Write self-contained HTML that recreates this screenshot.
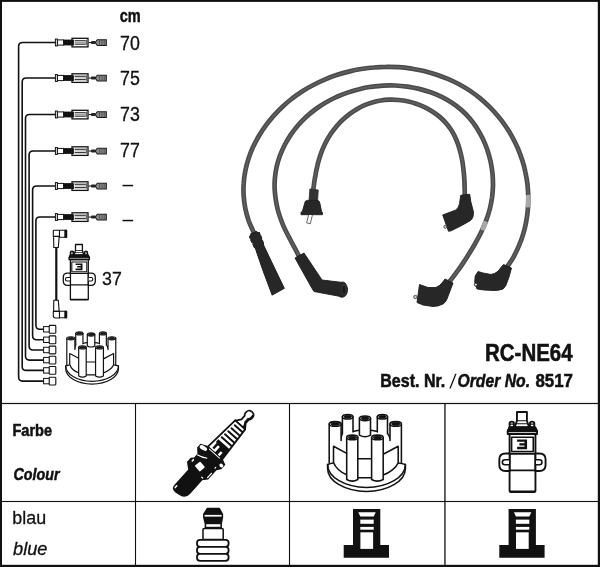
<!DOCTYPE html>
<html>
<head>
<meta charset="utf-8">
<title>RC-NE64</title>
<style>
html,body{margin:0;padding:0;background:#fff;}
body{width:600px;height:567px;overflow:hidden;font-family:"Liberation Sans",sans-serif;}
svg{display:block;will-change:transform;}
text{font-family:"Liberation Sans",sans-serif;fill:#111;}
</style>
</head>
<body>
<svg width="600" height="567" viewBox="0 0 600 567">
<defs>
<!-- PLUG-SYMBOL -->
<g id="plug">
<rect x="0.4" y="-3.4" width="2" height="6.8" fill="#fff" stroke="#111" stroke-width="1"/>
<rect x="2.4" y="-2.6" width="6.2" height="5.2" fill="#fff" stroke="#111" stroke-width="1"/>
<rect x="8.4" y="-2.9" width="8.4" height="5.8" fill="#111"/>
<rect x="17" y="-4.2" width="16" height="8.6" fill="#fff" stroke="#111" stroke-width="1.3"/>
<rect x="16.5" y="-2.8" width="2.4" height="5.8" fill="#111"/>
<rect x="19.6" y="-2.3" width="11.2" height="1.1" fill="#222"/>
<rect x="19.6" y="1.1" width="11.2" height="1.1" fill="#222"/>
<rect x="19.6" y="-0.5" width="11.2" height="0.9" fill="#999"/>
<rect x="30.8" y="-2.8" width="2.6" height="5.6" fill="#666"/>
<rect x="33.6" y="-0.5" width="7" height="1.1" fill="#222"/>
<rect x="36" y="-1.6" width="4.6" height="3.2" rx="1" fill="#222"/>
<path d="M40.2 0 L42.3 -2.8 L51.3 -2.8 L51.3 3 L42.3 3 Z" fill="#8c8c8c" stroke="#1a1a1a" stroke-width="1.1"/>
<path d="M44.6 -2.4 V2.6 M47 -2.4 V2.6 M49.2 -2.4 V2.6" stroke="#444" stroke-width="0.8" fill="none"/>
</g>
<!-- TERM-SYMBOL -->
<g id="term">
<rect x="0" y="-2.7" width="6" height="5.4" fill="#fff" stroke="#111" stroke-width="1"/>
<rect x="5.6" y="-3.9" width="6.6" height="7.8" rx="0.8" fill="#fff" stroke="#111" stroke-width="1.1"/>
</g>
<g id="dcap" fill="none" stroke="#111" stroke-linejoin="round" stroke-linecap="round">
<path d="M-38.9 50.5 V54.5 A38.9 22.9 0 0 0 38.9 54.5 V50.5 Q36 49.5 31.7 49 H-33.3 Q-36 49.5 -38.9 50.5 Z" fill="#fff"/>
<path d="M-38.9 50.5 A38.9 22.9 0 0 0 38.9 50.5"/>
<path d="M-33.3 32.1 V48.8 A32.5 15 0 0 0 31.7 49.3 V32.1 L23.5 24 L21 18.6 L10.8 17.8 L4 16.2 H-7.1 L-13.5 17.8 L-24.1 18.6 L-25.4 24 Z" fill="#fff" stroke="none"/>
<path d="M-13.5 17.6 Q-10 16.4 -7.1 16.2 M4 16.2 Q7.5 16.4 10.8 17.6 M-25.4 24.5 Q-25 21 -24.1 19.5 M21 19.5 Q22.5 21 23.5 24.5"/>
<path d="M-24.1 2.7 V19.5 L-13.5 17.8 V2.7" fill="#fff" stroke="none"/><path d="M-24.1 2.7 V19.5 M-13.5 17.8 V2.7" fill="none"/><ellipse cx="-18.8" cy="2.7" rx="5.3" ry="2.3" fill="#fff"/><ellipse cx="-18.8" cy="2.7" rx="3.7" ry="1.5" fill="#111" stroke="#111" stroke-width="0.8"/>
<path d="M10.8 2.7 V17.8 L21.0 19.5 V2.7" fill="#fff" stroke="none"/><path d="M10.8 2.7 V17.8 M21.0 19.5 V2.7" fill="none"/><ellipse cx="15.9" cy="2.7" rx="5.1" ry="2.3" fill="#fff"/><ellipse cx="15.9" cy="2.7" rx="3.5" ry="1.5" fill="#111" stroke="#111" stroke-width="0.8"/>
<path d="M-7.1 4.3 V21.1 Q-1.5 24.4 4.0 21.1 V4.3" fill="#fff"/><ellipse cx="-1.5" cy="4.3" rx="5.5" ry="2.3" fill="#fff"/><ellipse cx="-1.5" cy="4.3" rx="3.9" ry="1.5" fill="#111" stroke="#111" stroke-width="0.8"/>
<path d="M-37.3 9.9 V48.9 L-25.4 26.5 V9.9" fill="#fff" stroke="none"/><path d="M-37.3 9.9 V48.9 M-25.4 26.5 V9.9" fill="none"/><ellipse cx="-31.3" cy="9.9" rx="5.9" ry="2.3" fill="#fff"/><ellipse cx="-31.3" cy="9.9" rx="4.3" ry="1.5" fill="#111" stroke="#111" stroke-width="0.8"/>
<path d="M23.5 9.9 V26.5 L34.9 48.9 V9.9" fill="#fff" stroke="none"/><path d="M23.5 9.9 V26.5 M34.9 48.9 V9.9" fill="none"/><ellipse cx="29.2" cy="9.9" rx="5.7" ry="2.3" fill="#fff"/><ellipse cx="29.2" cy="9.9" rx="4.1" ry="1.5" fill="#111" stroke="#111" stroke-width="0.8"/>
<path d="M-33 32.3 V48.5 C-31.5 53 -26 58.5 -19.8 60.7 M-33 32.3 L-19.8 39.4 M31.7 32.3 V48.8 C30 53.5 23 58.8 16.7 60.9 M31.7 32.3 L16.7 40.2 M-8.7 44.8 H5.1 M-8.7 63.8 H5.1"/>
<path d="M-19.8 23.4 V65.5 Q-14.2 68.8 -8.7 65.5 V23.4" fill="#fff"/><ellipse cx="-14.2" cy="23.4" rx="5.6" ry="2.3" fill="#fff"/><ellipse cx="-14.2" cy="23.4" rx="4.0" ry="1.5" fill="#111" stroke="#111" stroke-width="0.8"/>
<path d="M5.1 23.4 V65.5 Q10.9 68.8 16.7 65.5 V23.4" fill="#fff"/><ellipse cx="10.9" cy="23.4" rx="5.8" ry="2.3" fill="#fff"/><ellipse cx="10.9" cy="23.4" rx="4.2" ry="1.5" fill="#111" stroke="#111" stroke-width="0.8"/>
</g>
<g id="coil" fill="#fff" stroke="#111" stroke-width="1.3" stroke-linejoin="round">
<path d="M-8.8 11 V8 Q-8.8 6.9 -7.3 6.9 Q-5.8 6.9 -5.8 8 V11Z"/>
<path d="M5.3 11 V8 Q5.3 6.9 6.8 6.9 Q8.3 6.9 8.3 8 V11Z"/>
<path d="M-8.8 8.7 H-5.8 M5.3 8.7 H8.3" stroke-width="0.8"/>
<path d="M-3.7 0.3 H3.2 V6.3 L4.4 10 V11 H-5 V10 L-3.7 6.3Z"/>
<path d="M-3.7 6.3 H3.2 M-4.3 8.4 H3.8" stroke-width="0.8"/>
<rect x="-8.8" y="15.5" width="17.9" height="40.1" rx="0.6"/>
<path d="M-8.8 10.9 H8.9 L10.2 13.6 V15.5 H-10.1 V13.6Z" fill="#fff"/>
<path d="M-8.8 10.9 H8.9 L10.2 13.6 H-10.1Z" fill="#111"/>
<rect x="-7.4" y="17.8" width="15" height="9.8" fill="#fff" stroke-width="1.1"/>
<path d="M-3.6 19.3 H3.3 V26 H-3.6 V24.4 H1.5 V23.4 H-2 V21.9 H1.5 V20.9 H-3.6Z" fill="#111" stroke="none"/>
<path d="M-8.8 29 H-11.6 Q-15.9 29 -15.9 33 V37 Q-15.9 41.1 -11.6 41.1 H-8.8 Z"/>
<path d="M9.1 29 H11.8 Q16.1 29 16.1 33 V37 Q16.1 41.1 11.8 41.1 H9.1 Z"/>
<path d="M-9.2 33.3 H-12 Q-13.8 33.3 -13.8 35.05 Q-13.8 36.8 -12 36.8 H-9.2" stroke-width="1.1"/>
<path d="M9.5 33.3 H12 Q13.6 33.3 13.6 35.05 Q13.6 36.8 12 36.8 H9.5" stroke-width="1.1"/>
<path d="M-8.8 29.2 H9.1 M-8.8 40.7 H9.1 M-8.6 55.2 H8.9" fill="none"/>
</g>
<g id="sock">
<path d="M353 509 H380.3 V545 H389 V557.7 H343.7 V545 H353Z" fill="#111"/>
<path d="M358.3 512.3 H375.7 L373.7 516.4 H360.3Z" fill="#fff"/>
<rect x="360.3" y="519.6" width="13.4" height="4.2" fill="#fff"/>
<rect x="360.3" y="526.9" width="13.4" height="2.8" fill="#fff"/>
<rect x="360.4" y="532.3" width="12.7" height="16.6" fill="#fff"/>
</g>

</defs>
<rect x="0" y="0" width="600" height="567" fill="#fff"/>
<!-- FRAME -->
<g fill="#111">
<rect x="0" y="0" width="600" height="1.9"/>
<rect x="0" y="0" width="2" height="567"/>
<rect x="597.8" y="0" width="2.2" height="567"/>
<rect x="0" y="564.8" width="600" height="2.2"/>
<rect x="0" y="402.9" width="600" height="1.2"/>
<rect x="0" y="500.95" width="600" height="1.1"/>
<rect x="134.95" y="403" width="1.1" height="164"/>
<rect x="288.95" y="403" width="1.1" height="164"/>
<rect x="444.3" y="403" width="1.3" height="164"/>
</g>
<!-- LEFT-DIAGRAM -->
<g fill="none" stroke="#111" stroke-width="1.6">
<path d="M55.4 42.5 H22.6 Q18.6 42.5 18.6 46.5 V377.1 Q18.6 381.1 22.6 381.1 H43.8"/>
<path d="M55.4 78 H26.2 Q22.2 78 22.2 82 V366.4 Q22.2 370.4 26.2 370.4 H43.8"/>
<path d="M55.4 114.5 H29.5 Q25.5 114.5 25.5 118.5 V356.1 Q25.5 360.1 29.5 360.1 H43.8"/>
<path d="M55.4 151 H33.1 Q29.1 151 29.1 155 V346 Q29.1 350 33.1 350 H43.8"/>
<path d="M55.4 186 H36.6 Q32.6 186 32.6 190 V335.8 Q32.6 339.8 36.6 339.8 H43.8"/>
<path d="M55.4 217 H39.9 Q35.9 217 35.9 221 V325.3 Q35.9 329.3 39.9 329.3 H43.8"/>
</g>
<use href="#plug" x="55" y="42.5"/>
<use href="#plug" x="55" y="78"/>
<use href="#plug" x="55" y="114.5"/>
<use href="#plug" x="55" y="151"/>
<use href="#plug" x="55" y="186"/>
<use href="#plug" x="55" y="217"/>
<use href="#term" x="43.6" y="381.1"/>
<use href="#term" x="43.6" y="370.4"/>
<use href="#term" x="43.6" y="360.1"/>
<use href="#term" x="43.6" y="350"/>
<use href="#term" x="43.6" y="339.8"/>
<use href="#term" x="43.6" y="329.3"/>
<g fill="#fff" stroke="#111" stroke-width="1.1" stroke-linejoin="round">
<path d="M56.3 247 V301" stroke-width="2.2" fill="none"/>
<path d="M53.6 236.4 L53.8 247.5 H58.3 L59.2 236.4Z"/>
<path d="M54 230.3 H59.5 V236.4 H53.3 V231 Q53.3 230.3 54 230.3Z"/>
<rect x="59.5" y="230.3" width="6.8" height="7"/>
<rect x="64.9" y="230.3" width="1.8" height="7" fill="#111"/>
<path d="M53.6 311.4 L53.8 300.3 H58.3 L59.2 311.4Z"/>
<path d="M53.3 311.4 H59.5 V318 H55.5 Q53.3 318 53.3 315.8Z"/>
<rect x="59.5" y="311.2" width="6.8" height="6.6"/>
<rect x="64.9" y="311.2" width="1.8" height="6.6" fill="#111"/>
</g>
<use href="#coil" transform="translate(79.2 244.2)"/>
<use href="#dcap" transform="translate(92.1 331.6) scale(0.678)" stroke-width="1.75"/>
<!-- PHOTO -->
<g fill="none" stroke-linecap="butt" stroke-linejoin="round">
<path d="M254.0 232.8 C253.1 230.8 250.2 224.8 248.7 220.8 C247.3 216.7 246.2 212.6 245.3 208.4 C244.5 204.3 243.9 200.1 243.7 195.9 C243.4 191.8 243.4 187.6 243.7 183.4 C243.9 179.3 244.5 175.1 245.3 171.0 C246.1 167.0 247.1 162.9 248.4 159.0 C249.7 155.0 251.2 151.1 252.9 147.3 C254.7 143.5 256.6 139.8 258.7 136.2 C260.9 132.5 263.2 129.0 265.7 125.6 C268.2 122.2 270.8 118.9 273.6 115.8 C276.5 112.6 279.4 109.6 282.5 106.7 C285.6 103.8 288.8 101.1 292.1 98.5 C295.5 96.0 298.9 93.6 302.4 91.3 C306.0 89.0 309.6 86.9 313.3 85.0 C317.0 83.0 320.8 81.2 324.7 79.6 C328.6 77.9 332.5 76.4 336.5 75.1 C340.5 73.8 344.6 72.6 348.7 71.6 C352.8 70.6 356.9 69.7 361.1 69.0 C365.2 68.4 369.4 67.8 373.6 67.5 C377.8 67.1 382.1 66.9 386.3 66.9 C390.5 66.8 394.7 67.0 398.9 67.2 C403.1 67.5 407.3 68.0 411.5 68.6 C415.6 69.3 419.8 70.0 423.9 71.0 C428.0 72.0 432.0 73.1 436.0 74.4 C440.0 75.7 443.9 77.2 447.8 78.8 C451.6 80.4 455.4 82.2 459.1 84.2 C462.7 86.2 466.3 88.3 469.8 90.6 C473.3 93.0 476.7 95.5 479.9 98.1 C483.2 100.8 486.3 103.6 489.3 106.6 C492.3 109.5 495.2 112.7 497.9 115.9 C500.6 119.1 503.2 122.5 505.5 126.0 C507.9 129.5 510.2 133.1 512.2 136.8 C514.2 140.5 516.1 144.3 517.8 148.2 C519.4 152.0 520.9 156.0 522.2 160.0 C523.5 164.0 524.6 168.1 525.4 172.2 C526.3 176.3 527.0 180.5 527.5 184.6 C527.9 188.8 528.2 193.0 528.3 197.2 C528.3 201.4 528.2 205.6 527.8 209.7 C527.5 213.9 526.9 218.1 526.1 222.2 C525.3 226.3 524.3 230.4 523.1 234.4 C521.9 238.4 520.4 242.4 518.8 246.2 C517.1 250.1 515.3 253.9 513.2 257.6 C511.1 261.3 507.3 266.6 506.2 268.4" stroke="#4a4a4a" stroke-width="4.7"/>
<path d="M254.0 232.8 C253.1 230.8 250.2 224.8 248.7 220.8 C247.3 216.7 246.2 212.6 245.3 208.4 C244.5 204.3 243.9 200.1 243.7 195.9 C243.4 191.8 243.4 187.6 243.7 183.4 C243.9 179.3 244.5 175.1 245.3 171.0 C246.1 167.0 247.1 162.9 248.4 159.0 C249.7 155.0 251.2 151.1 252.9 147.3 C254.7 143.5 256.6 139.8 258.7 136.2 C260.9 132.5 263.2 129.0 265.7 125.6 C268.2 122.2 270.8 118.9 273.6 115.8 C276.5 112.6 279.4 109.6 282.5 106.7 C285.6 103.8 288.8 101.1 292.1 98.5 C295.5 96.0 298.9 93.6 302.4 91.3 C306.0 89.0 309.6 86.9 313.3 85.0 C317.0 83.0 320.8 81.2 324.7 79.6 C328.6 77.9 332.5 76.4 336.5 75.1 C340.5 73.8 344.6 72.6 348.7 71.6 C352.8 70.6 356.9 69.7 361.1 69.0 C365.2 68.4 369.4 67.8 373.6 67.5 C377.8 67.1 382.1 66.9 386.3 66.9 C390.5 66.8 394.7 67.0 398.9 67.2 C403.1 67.5 407.3 68.0 411.5 68.6 C415.6 69.3 419.8 70.0 423.9 71.0 C428.0 72.0 432.0 73.1 436.0 74.4 C440.0 75.7 443.9 77.2 447.8 78.8 C451.6 80.4 455.4 82.2 459.1 84.2 C462.7 86.2 466.3 88.3 469.8 90.6 C473.3 93.0 476.7 95.5 479.9 98.1 C483.2 100.8 486.3 103.6 489.3 106.6 C492.3 109.5 495.2 112.7 497.9 115.9 C500.6 119.1 503.2 122.5 505.5 126.0 C507.9 129.5 510.2 133.1 512.2 136.8 C514.2 140.5 516.1 144.3 517.8 148.2 C519.4 152.0 520.9 156.0 522.2 160.0 C523.5 164.0 524.6 168.1 525.4 172.2 C526.3 176.3 527.0 180.5 527.5 184.6 C527.9 188.8 528.2 193.0 528.3 197.2 C528.3 201.4 528.2 205.6 527.8 209.7 C527.5 213.9 526.9 218.1 526.1 222.2 C525.3 226.3 524.3 230.4 523.1 234.4 C521.9 238.4 520.4 242.4 518.8 246.2 C517.1 250.1 515.3 253.9 513.2 257.6 C511.1 261.3 507.3 266.6 506.2 268.4" stroke="#5e5e5e" stroke-width="1.8"/>
<path d="M299.9 258.1 C299.0 256.3 296.3 250.9 294.4 247.4 C292.6 243.9 290.6 240.4 288.8 236.8 C286.9 233.3 285.1 229.7 283.5 226.1 C281.9 222.4 280.5 218.7 279.3 214.9 C278.1 211.1 277.1 207.2 276.4 203.3 C275.7 199.4 275.1 195.4 274.8 191.4 C274.5 187.4 274.5 183.4 274.8 179.4 C275.1 175.4 275.7 171.3 276.5 167.4 C277.4 163.5 278.5 159.6 279.9 155.8 C281.3 152.0 283.0 148.3 284.8 144.7 C286.7 141.1 288.8 137.7 291.0 134.4 C293.3 131.1 295.7 128.0 298.3 125.0 C300.9 122.0 303.7 119.2 306.6 116.5 C309.5 113.9 312.6 111.4 315.8 109.0 C319.0 106.7 322.3 104.5 325.8 102.5 C329.2 100.5 332.8 98.7 336.4 97.0 C340.0 95.4 343.7 93.9 347.5 92.6 C351.3 91.3 355.2 90.1 359.1 89.2 C363.0 88.2 367.0 87.4 371.0 86.8 C375.0 86.3 379.0 85.8 383.0 85.6 C387.1 85.4 391.1 85.4 395.2 85.5 C399.2 85.7 403.3 86.1 407.3 86.6 C411.3 87.2 415.3 87.9 419.2 88.9 C423.1 89.8 426.9 91.0 430.7 92.3 C434.4 93.6 438.1 95.2 441.7 96.9 C445.2 98.7 448.6 100.7 451.9 102.8 C455.2 105.0 458.4 107.4 461.3 109.9 C464.3 112.5 467.1 115.3 469.6 118.3 C472.2 121.3 474.6 124.6 476.8 127.9 C478.9 131.3 480.9 134.8 482.7 138.5 C484.4 142.1 486.0 145.9 487.3 149.7 C488.6 153.6 489.7 157.5 490.6 161.5 C491.4 165.4 492.1 169.5 492.5 173.5 C492.9 177.5 493.0 181.5 493.0 185.4 C492.9 189.4 492.6 193.4 492.1 197.3 C491.5 201.2 490.8 205.1 489.8 209.0 C488.8 212.8 487.6 216.6 486.2 220.4 C484.8 224.1 483.2 227.8 481.5 231.4 C479.8 235.0 477.9 238.6 475.9 242.1 C474.0 245.7 471.9 249.1 469.8 252.5 C467.7 256.0 465.6 259.3 463.4 262.6 C461.2 265.9 458.9 269.2 456.5 272.4 C454.2 275.6 450.5 280.4 449.2 281.9" stroke="#4a4a4a" stroke-width="4.7"/>
<path d="M299.9 258.1 C299.0 256.3 296.3 250.9 294.4 247.4 C292.6 243.9 290.6 240.4 288.8 236.8 C286.9 233.3 285.1 229.7 283.5 226.1 C281.9 222.4 280.5 218.7 279.3 214.9 C278.1 211.1 277.1 207.2 276.4 203.3 C275.7 199.4 275.1 195.4 274.8 191.4 C274.5 187.4 274.5 183.4 274.8 179.4 C275.1 175.4 275.7 171.3 276.5 167.4 C277.4 163.5 278.5 159.6 279.9 155.8 C281.3 152.0 283.0 148.3 284.8 144.7 C286.7 141.1 288.8 137.7 291.0 134.4 C293.3 131.1 295.7 128.0 298.3 125.0 C300.9 122.0 303.7 119.2 306.6 116.5 C309.5 113.9 312.6 111.4 315.8 109.0 C319.0 106.7 322.3 104.5 325.8 102.5 C329.2 100.5 332.8 98.7 336.4 97.0 C340.0 95.4 343.7 93.9 347.5 92.6 C351.3 91.3 355.2 90.1 359.1 89.2 C363.0 88.2 367.0 87.4 371.0 86.8 C375.0 86.3 379.0 85.8 383.0 85.6 C387.1 85.4 391.1 85.4 395.2 85.5 C399.2 85.7 403.3 86.1 407.3 86.6 C411.3 87.2 415.3 87.9 419.2 88.9 C423.1 89.8 426.9 91.0 430.7 92.3 C434.4 93.6 438.1 95.2 441.7 96.9 C445.2 98.7 448.6 100.7 451.9 102.8 C455.2 105.0 458.4 107.4 461.3 109.9 C464.3 112.5 467.1 115.3 469.6 118.3 C472.2 121.3 474.6 124.6 476.8 127.9 C478.9 131.3 480.9 134.8 482.7 138.5 C484.4 142.1 486.0 145.9 487.3 149.7 C488.6 153.6 489.7 157.5 490.6 161.5 C491.4 165.4 492.1 169.5 492.5 173.5 C492.9 177.5 493.0 181.5 493.0 185.4 C492.9 189.4 492.6 193.4 492.1 197.3 C491.5 201.2 490.8 205.1 489.8 209.0 C488.8 212.8 487.6 216.6 486.2 220.4 C484.8 224.1 483.2 227.8 481.5 231.4 C479.8 235.0 477.9 238.6 475.9 242.1 C474.0 245.7 471.9 249.1 469.8 252.5 C467.7 256.0 465.6 259.3 463.4 262.6 C461.2 265.9 458.9 269.2 456.5 272.4 C454.2 275.6 450.5 280.4 449.2 281.9" stroke="#5e5e5e" stroke-width="1.8"/>
<path d="M313.0 192.1 C313.2 190.6 313.7 186.4 314.1 183.5 C314.5 180.7 314.9 177.8 315.5 174.9 C316.0 172.0 316.6 169.0 317.3 166.1 C317.9 163.2 318.7 160.4 319.6 157.5 C320.5 154.7 321.5 151.9 322.6 149.1 C323.8 146.4 325.0 143.7 326.4 141.1 C327.8 138.5 329.4 135.9 331.0 133.5 C332.7 131.0 334.5 128.7 336.4 126.4 C338.3 124.2 340.3 122.0 342.4 120.0 C344.6 118.0 346.8 116.1 349.1 114.3 C351.4 112.5 353.9 110.9 356.4 109.4 C358.9 107.9 361.4 106.6 364.1 105.4 C366.7 104.2 369.5 103.2 372.3 102.4 C375.0 101.6 377.9 100.9 380.8 100.5 C383.7 100.0 386.6 99.8 389.6 99.7 C392.6 99.6 395.6 99.7 398.5 100.0 C401.5 100.3 404.5 100.7 407.4 101.3 C410.4 102.0 413.3 102.8 416.1 103.7 C419.0 104.7 421.8 105.8 424.5 107.1 C427.1 108.4 429.8 109.8 432.3 111.4 C434.8 113.0 437.2 114.7 439.4 116.6 C441.6 118.5 443.7 120.5 445.6 122.6 C447.6 124.8 449.3 127.1 450.9 129.5 C452.5 131.9 453.9 134.5 455.1 137.1 C456.4 139.7 457.4 142.4 458.4 145.2 C459.3 148.0 460.1 150.9 460.8 153.8 C461.5 156.7 462.1 159.7 462.6 162.7 C463.0 165.6 463.4 168.7 463.7 171.7 C464.0 174.7 464.2 177.7 464.4 180.6 C464.6 183.6 464.6 186.5 464.7 189.4 C464.8 192.3 464.8 196.5 464.8 197.9" stroke="#4a4a4a" stroke-width="4.7"/>
<path d="M313.0 192.1 C313.2 190.6 313.7 186.4 314.1 183.5 C314.5 180.7 314.9 177.8 315.5 174.9 C316.0 172.0 316.6 169.0 317.3 166.1 C317.9 163.2 318.7 160.4 319.6 157.5 C320.5 154.7 321.5 151.9 322.6 149.1 C323.8 146.4 325.0 143.7 326.4 141.1 C327.8 138.5 329.4 135.9 331.0 133.5 C332.7 131.0 334.5 128.7 336.4 126.4 C338.3 124.2 340.3 122.0 342.4 120.0 C344.6 118.0 346.8 116.1 349.1 114.3 C351.4 112.5 353.9 110.9 356.4 109.4 C358.9 107.9 361.4 106.6 364.1 105.4 C366.7 104.2 369.5 103.2 372.3 102.4 C375.0 101.6 377.9 100.9 380.8 100.5 C383.7 100.0 386.6 99.8 389.6 99.7 C392.6 99.6 395.6 99.7 398.5 100.0 C401.5 100.3 404.5 100.7 407.4 101.3 C410.4 102.0 413.3 102.8 416.1 103.7 C419.0 104.7 421.8 105.8 424.5 107.1 C427.1 108.4 429.8 109.8 432.3 111.4 C434.8 113.0 437.2 114.7 439.4 116.6 C441.6 118.5 443.7 120.5 445.6 122.6 C447.6 124.8 449.3 127.1 450.9 129.5 C452.5 131.9 453.9 134.5 455.1 137.1 C456.4 139.7 457.4 142.4 458.4 145.2 C459.3 148.0 460.1 150.9 460.8 153.8 C461.5 156.7 462.1 159.7 462.6 162.7 C463.0 165.6 463.4 168.7 463.7 171.7 C464.0 174.7 464.2 177.7 464.4 180.6 C464.6 183.6 464.6 186.5 464.7 189.4 C464.8 192.3 464.8 196.5 464.8 197.9" stroke="#5e5e5e" stroke-width="1.8"/>
</g>
<path d="M526 194.9 L530.7 194.7 L530.7 207.2 L526 207.4 Z" fill="#a8a8a8"/>
<path d="M483.6 220.6 L488 222.3 L484.6 231 L480.2 229.2 Z" fill="#a8a8a8"/>
<!-- BOOTS -->
<g fill="#272727" stroke="#1c1c1c" stroke-width="0.9" stroke-linejoin="round">
<g transform="translate(253.6 232.6) rotate(-22.6)">
<path d="M-3.2 0 H3.2 L3.4 1.4 L5.4 2 V4.2 L4.6 4.8 L5.5 5.6 V8.2 L4.4 9.4 L5.2 10.6 V13.6 L4.4 15 L4.6 20 L5.7 40 L6.9 63.2 L-6.9 64.8 L-6 40 L-4.8 20 L-4.4 15 L-5.2 13.6 V10.6 L-4.4 9.4 L-5.5 8.2 V5.6 L-4.6 4.8 L-5.4 4.2 V2 L-3.4 1.4Z"/>
</g>
<path d="M295 258 L304 253 L322 280 L341 282.3 Q346 280.5 347.6 289 Q347.2 297.8 341 297.2 L339 296.2 L314 291.5 Q311 287 309 283 Z"/>
<path d="M460.7 195.3 L469.7 194.3 L470.7 201.2 L473.4 211.7 Q473.6 215 472.9 217 Q472 219.5 470.2 220.7 L461.7 225.5 L451.2 230.8 L448.5 231.3 L442.7 214.9 L455.4 210.2 Q459 208 459.6 203.3 Z"/>
<path d="M445 279 L453 283 L450 291 L447 299 Q445.5 302.5 443 304 Q438 306.5 433 306.5 L423 305 L417 302.5 L419.5 284.5 L428 287.5 L436 287.5 Q440 285.5 442 283 Z"/>
<path d="M503.5 264.5 L511.5 268 L509 277 L506 285 Q504.8 287.6 503 289 Q499 290.5 494 290.5 L484 290 L477 289 L474.7 282 L475.2 276 L478 271.5 L483 273 L491 274.5 Q495 273.6 497 272 Q499.5 270 500.5 268 Z"/>
<path d="M309.9 189 L318.2 190 L317.6 200.6 H309 Z" fill="#333" stroke="#333"/>
<path d="M304.8 203 Q304.8 200.4 307.5 200.4 H317 Q319.6 200.4 319.8 203 L321.5 211.3 L322.4 212.3 V214.7 H301 V212.3 L302.4 211.3 Z"/>
</g>
<path d="M308.6 215 L306.6 222.8 L310.3 223.8 L312.4 215" fill="#fff" stroke="#666" stroke-width="1"/>
<circle cx="445.3" cy="226.8" r="1.5" fill="#ccc" stroke="#333" stroke-width="0.8"/>
<circle cx="415.4" cy="297" r="1.7" fill="#ccc" stroke="#333" stroke-width="0.8"/>
<circle cx="475.8" cy="284.6" r="1.5" fill="#eee" stroke="#222" stroke-width="1"/>
<ellipse cx="343.9" cy="289.4" rx="2.3" ry="5.6" fill="#3d3d3d"/><ellipse cx="343.9" cy="289.6" rx="1.4" ry="4.2" fill="#151515"/>
<!-- /BOOTS -->

<!-- TEXT -->
<g>
<text x="119.7" y="22.4" font-size="19" font-weight="bold" stroke="#111" stroke-width="0.5" textLength="21" lengthAdjust="spacingAndGlyphs">cm</text>
<text x="120" y="49.7" font-size="19.5" stroke="#111" stroke-width="0.3" textLength="19.8" lengthAdjust="spacingAndGlyphs">70</text>
<text x="120" y="85.2" font-size="19.5" stroke="#111" stroke-width="0.3" textLength="19.8" lengthAdjust="spacingAndGlyphs">75</text>
<text x="120" y="120.9" font-size="19.5" stroke="#111" stroke-width="0.3" textLength="19.8" lengthAdjust="spacingAndGlyphs">73</text>
<text x="120" y="156.6" font-size="19.5" stroke="#111" stroke-width="0.3" textLength="19.8" lengthAdjust="spacingAndGlyphs">77</text>
<rect x="122.5" y="184.8" width="10.6" height="1.5" fill="#111"/>
<rect x="122.5" y="219.8" width="10.6" height="1.5" fill="#111"/>
<text x="102" y="285.3" font-size="19" stroke="#111" stroke-width="0.3" textLength="19.8" lengthAdjust="spacingAndGlyphs">37</text>
<text x="485" y="361" font-size="23.5" font-weight="bold" stroke="#111" stroke-width="0.55" textLength="87.6" lengthAdjust="spacingAndGlyphs">RC-NE64</text>
<text x="380.3" y="387.4" font-size="18" font-weight="bold" stroke="#111" stroke-width="0.55" textLength="65" lengthAdjust="spacingAndGlyphs">Best. Nr.</text>
<path d="M449.3 388.5 L455.2 373.8 L456.6 373.8 L450.7 388.5Z" fill="#111"/>
<text x="457.5" y="387.4" font-size="18" font-weight="bold" font-style="italic" stroke="#111" stroke-width="0.5" textLength="72.5" lengthAdjust="spacingAndGlyphs">Order No.</text>
<text x="535.5" y="387.4" font-size="18" font-weight="bold" stroke="#111" stroke-width="0.55" textLength="37.5" lengthAdjust="spacingAndGlyphs">8517</text>
<text x="12.5" y="436" font-size="16.5" font-weight="bold" stroke="#111" stroke-width="0.55" textLength="39.5" lengthAdjust="spacingAndGlyphs">Farbe</text>
<text x="13.5" y="480" font-size="16.5" font-weight="bold" font-style="italic" stroke="#111" stroke-width="0.5" textLength="46" lengthAdjust="spacingAndGlyphs">Colour</text>
<text x="12.3" y="524.4" font-size="19" stroke="#111" stroke-width="0.3" textLength="33.8" lengthAdjust="spacingAndGlyphs">blau</text>
<text x="13" y="554.7" font-size="19" font-style="italic" stroke="#111" stroke-width="0.3" textLength="34.5" lengthAdjust="spacingAndGlyphs">blue</text>
</g>
<use href="#dcap" transform="translate(366.5 414)" stroke-width="1.55"/>
<use href="#coil" transform="translate(522.3 411.6) scale(1.445)"/>
<use href="#sock"/>
<use href="#sock" x="155.6"/>
<g id="spterm" stroke="#111" stroke-width="1.5" stroke-linejoin="round" fill="#fff">
<path d="M207.3 508.6 H219.3 L222.4 514.2 V517.2 L221.2 523.8 V527.4 H205.4 V523.8 L203.8 517.2 V514.2Z" fill="#111"/>
<rect x="204.6" y="514.9" width="17" height="1.7" fill="#fff" stroke="none"/>
<rect x="206.2" y="524.2" width="14.2" height="2.6" fill="#fff" stroke="none"/>
<rect x="203" y="528.4" width="20.2" height="11.2" rx="1.2"/>
<g stroke-width="1.8"><rect x="197" y="539.8" width="31.6" height="7" rx="3"/>
<rect x="197" y="546.8" width="31.6" height="7" rx="3"/>
<rect x="197" y="553.8" width="31.6" height="7" rx="3"/></g>
</g>
<g transform="translate(252.3 411.6) rotate(42)" stroke-linejoin="round">
<path d="M-2.5 0.9 Q0 -0.4 2.5 0.9 Q4.2 1.9 4.2 4 V5.8 Q4.2 7.4 2.9 8 V13 L5 16 L6.6 18 H-6.8 L-5 16 L-2.9 13 V8 Q-4.2 7.4 -4.2 5.8 V4 Q-4.2 1.9 -2.5 0.9Z" fill="#fff" stroke="#111" stroke-width="1.7"/>
<path d="M2.2 1.5 Q4.2 2 4.2 4 V5.8 Q4.2 7.4 2.9 8 V13 L5 16 L6.6 18 H3.2 L2.2 15 L0.9 13 V7.6 Q2.2 7.2 2.2 5.6 V3.5Z" fill="#111" stroke="none"/>
<path d="M-6.8 18 H6.6 L9.6 56 H-9.6Z" fill="#fff" stroke="#111" stroke-width="1.8"/>
<g fill="#111" stroke="none">
<rect x="-4.8" y="20.9" width="12" height="2" rx="0.9"/>
<rect x="-5.2" y="25.3" width="12.8" height="2" rx="0.9"/>
<rect x="-5.6" y="29.7" width="13.5" height="2" rx="0.9"/>
<rect x="-6" y="34.1" width="14.3" height="2" rx="0.9"/>
<rect x="-6.4" y="38.5" width="15" height="2" rx="0.9"/>
<path d="M-6.8 43.2 H9 L9.6 56 H5.5 V50.5 H3 V56 H-0.5 V48 H-3 V53.5 H-5.5 V47 H-6.8Z"/>
<path d="M-10 55.2 H10 L15.6 57.6 V63.5 L12.6 67.5 V80 L8.8 84.5 V102.5 Q8.8 109.5 2.5 110.6 L-3 111.6 Q-8.8 112 -8.8 106.5 V86 L-12 83.5 L-14.9 81 V75.5 L-12.6 73 V68 L-17 63.6 V58.6 Z"/>
</g>
<g fill="#fff" stroke="none">
<ellipse cx="-12" cy="59.8" rx="4.1" ry="2.1" transform="rotate(-12 -12 59.8)"/>
<ellipse cx="13" cy="60.8" rx="2.1" ry="1.8"/>
<rect x="-7.2" y="56.1" width="14.4" height="0.9" rx="0.4"/>
<path d="M-12.2 68.3 Q-7 67.2 -2.4 64.4 L-2 65.4 Q-6.6 68.3 -12 69.4Z"/>
<rect x="-6" y="72.4" width="7.6" height="7" rx="0.8" transform="rotate(8 -2.2 75.9)"/>
<rect x="-12.4" y="74.4" width="1.6" height="3.2" rx="0.8"/>
<rect x="10.3" y="72.6" width="1.3" height="7" rx="0.6"/>
<rect x="9.6" y="65.4" width="1.2" height="2.2" rx="0.6"/>
<rect x="5.6" y="82" width="2.6" height="1.2" rx="0.6"/>
<rect x="-7.2" y="105" width="1.5" height="3.8" rx="0.7"/>
</g>
</g>
<!-- TABLE-ICONS -->
</svg>
</body>
</html>
